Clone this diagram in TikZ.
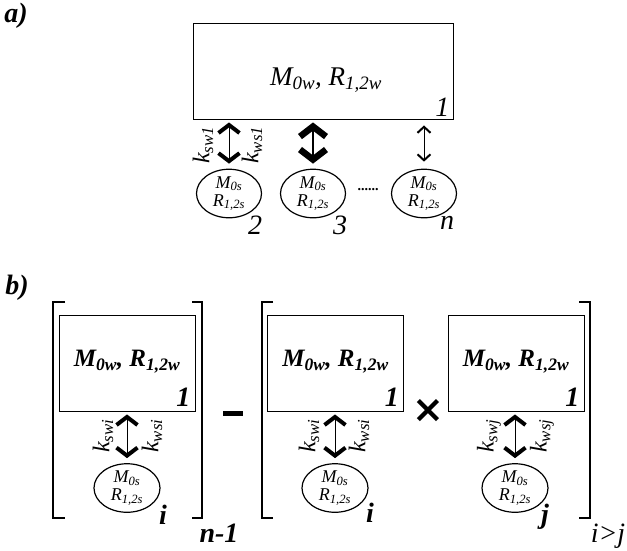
\documentclass[tikz,border=0pt]{standalone}
\usepackage{fontspec}
\setmainfont{Liberation Serif}
\newfontfamily\opfont{DejaVu Sans}
\usetikzlibrary{arrows.meta,shapes.geometric,positioning}

\begin{document}
\begin{tikzpicture}[
        x=1pt, y=-1pt,
        wall_box/.style={
            rectangle,
            draw,
            line width=0.9pt,
            minimum width=260pt,
            minimum height=96pt,
            inner sep=0pt
        },
        wall_box_b/.style={
            wall_box,
            minimum width=136pt
        },
        site/.style={
            ellipse,
            draw,
            line width=1.2pt,
            minimum width=65pt,
            minimum height=46pt,
            inner sep=0pt,
            align=center,
            font=\fontsize{18}{18}\selectfont\itshape
        },
        site_b/.style={site, minimum width=66pt, minimum height=44pt},
        exch_arrow/.style={<->, line width=1pt, shorten <=3pt, shorten >=5pt,
            >={Straight Barb[length=8pt,width=21pt,line width=4pt]}},
        exch_big/.style={<->, line width=2pt, shorten <=3pt, shorten >=5pt,
            >={Straight Barb[length=10pt,width=26pt,line width=6.5pt]}},
        exch_small/.style={<->, line width=0.8pt, shorten <=6pt, shorten >=7pt,
            >={Straight Barb[length=6pt,width=13pt,line width=2pt]}},
        rate_lbl/.style={rotate=90, inner sep=0pt, font=\fontsize{24}{24}\selectfont\itshape},
        wall_txt/.style={font=\fontsize{27}{28}\selectfont\itshape},
        wall_txt_b/.style={font=\fontsize{25}{28}\selectfont\bfseries\itshape},
        idx/.style={inner sep=0pt, font=\fontsize{28}{28}\selectfont\itshape},
        idx_b/.style={inner sep=0pt, font=\fontsize{28}{28}\selectfont\bfseries\itshape},
        panel/.style={inner sep=0pt, font=\fontsize{28}{28}\selectfont\bfseries\itshape},
        bracket/.style={line width=2.5pt}
    ]

    \useasboundingbox (0,0) rectangle (627,550);

    % =================================================
    % a) one wall, n sites
    % =================================================

    \node[panel] (a_Panel) at (16,16) {a)};

    \node[wall_box] (a_Wall) at (323,71) {};
    \node[wall_txt] (a_WallTxt) at (326,80) {M\textsubscript{0w}, R\textsubscript{1,2w}};
    \node[idx, anchor=south east] (a_WallNo) at ([xshift=-4pt,yshift=3pt]a_Wall.south east) {1};

    % Sites
    \node[site] (a_Site2) at (229,193.5) {M\textsubscript{0s}\\R\textsubscript{1,2s}};
    \node[site] (a_Site3) at (313,193.5) {M\textsubscript{0s}\\R\textsubscript{1,2s}};
    \node[site] (a_SiteN) at (424,193.5) {M\textsubscript{0s}\\R\textsubscript{1,2s}};
    \node[idx] (a_No2) at (255,225) {2};
    \node[idx] (a_No3) at (340,225) {3};
    \node[idx] (a_NoN) at (447,223) {n};
    \node[font=\fontsize{14}{14}\selectfont\bfseries] (a_Dots) at (368,190) {......};

    % Exchange
    \draw[exch_arrow] (a_Site2.north |- a_Wall.south) -- (a_Site2.north);
    \draw[exch_big] (a_Site3.north |- a_Wall.south) -- (a_Site3.north);
    \draw[exch_small] (a_SiteN.north |- a_Wall.south) -- (a_SiteN.north);
    \node[rate_lbl] (a_ksw) at (203,145) {k\textsubscript{sw1}};
    \node[rate_lbl] (a_kws) at (252,145) {k\textsubscript{ws1}};

    % =================================================
    % b) pair terms
    % =================================================

    \node[panel] (b_Panel) at (17,288) {b)};

    % first bracket
    \node[wall_box_b] (b_Wall1) at (127,363) {};
    \node[wall_txt_b] (b_Txt1) at (127,362) {M\textsubscript{0w}, R\textsubscript{1,2w}};
    \node[idx_b, anchor=south east] (b_No1) at ([xshift=-5pt,yshift=5pt]b_Wall1.south east) {1};
    \node[site_b] (b_Site1) at (127,488) {M\textsubscript{0s}\\R\textsubscript{1,2s}};
    \draw[exch_arrow] (b_Site1.north |- b_Wall1.south) -- (b_Site1.north);
    \node[rate_lbl] (b_ksw1) at (103,436) {k\textsubscript{swi}};
    \node[rate_lbl] (b_kws1) at (152,436) {k\textsubscript{wsi}};
    \node[idx_b] (b_I1) at (163,515) {i};

    \draw[bracket] (65,302) -- (53,302) -- (53,518) -- (65,518);
    \draw[bracket] (192,302) -- (202,302) -- (202,518) -- (192,518);
    \node[idx_b] (b_Pow1) at (219,533) {n-1};

    \node[inner sep=0pt] (b_Minus) at (233,413) {\rule{20pt}{5pt}};

    % second bracket
    \node[wall_box_b] (b_Wall2) at (335.5,363) {};
    \node[wall_txt_b] (b_Txt2) at (335.5,362) {M\textsubscript{0w}, R\textsubscript{1,2w}};
    \node[idx_b, anchor=south east] (b_No2) at ([xshift=-5pt,yshift=5pt]b_Wall2.south east) {1};
    \node[site_b] (b_Site2) at (335,488) {M\textsubscript{0s}\\R\textsubscript{1,2s}};
    \draw[exch_arrow] (b_Site2.north |- b_Wall2.south) -- (b_Site2.north);
    \node[rate_lbl] (b_ksw2) at (309,436) {k\textsubscript{swi}};
    \node[rate_lbl] (b_kws2) at (359,436) {k\textsubscript{wsi}};
    \node[idx_b] (b_I2) at (370,513) {i};

    \node[inner sep=0pt, font=\fontsize{38}{38}\selectfont\opfont\bfseries] (b_Times) at (428,411) {×};

    \node[wall_box_b] (b_Wall3) at (516,363) {};
    \node[wall_txt_b] (b_Txt3) at (516,362) {M\textsubscript{0w}, R\textsubscript{1,2w}};
    \node[idx_b, anchor=south east] (b_No3) at ([xshift=-5pt,yshift=5pt]b_Wall3.south east) {1};
    \node[site_b] (b_Site3) at (515,488) {M\textsubscript{0s}\\R\textsubscript{1,2s}};
    \draw[exch_arrow] (b_Site3.north |- b_Wall3.south) -- (b_Site3.north);
    \node[rate_lbl] (b_ksw3) at (489,436) {k\textsubscript{swj}};
    \node[rate_lbl] (b_kws3) at (542,436) {k\textsubscript{wsj}};
    \node[idx_b] (b_J3) at (545,517) {j};

    \draw[bracket] (273,302) -- (262,302) -- (262,518) -- (273,518);
    \draw[bracket] (579,302) -- (590,302) -- (590,518) -- (579,518);
    \node[idx] (b_Pow2) at (608,536) {i>j};

\end{tikzpicture}
\end{document}
